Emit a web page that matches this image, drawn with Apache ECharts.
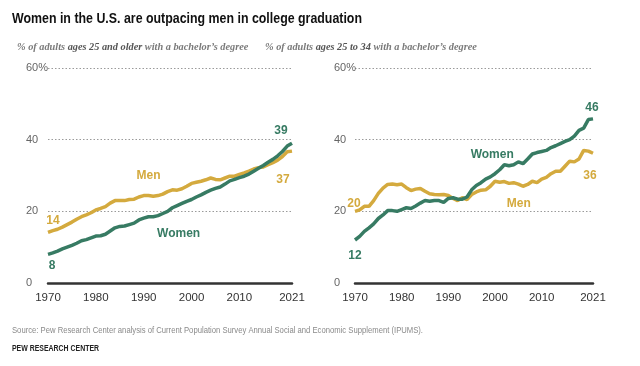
<!DOCTYPE html>
<html><head><meta charset="utf-8">
<script src="https://cdn.jsdelivr.net/npm/echarts@6/dist/echarts.min.js"></script>
<style>html,body{margin:0;padding:0;background:#fff}#c{width:640px;height:366px}</style>
</head><body><div id="c"></div>
<script>
const years = [];
for (let y = 1970; y <= 2021; y++) years.push(y);

// Ages 25 and older
const menAll = [14.1,14.6,15.0,15.6,16.3,17.0,17.8,18.5,19.0,19.6,20.4,20.8,21.3,22.3,23.0,23.0,23.0,23.3,23.4,24.0,24.4,24.4,24.2,24.4,24.8,25.5,26.0,25.9,26.3,27.0,27.8,28.1,28.4,28.8,29.3,28.9,28.8,29.3,29.8,29.8,30.3,30.7,31.2,31.8,32.2,32.4,33.0,33.6,34.3,35.3,36.6,36.8];
const womenAll = [8.0,8.4,8.9,9.5,10.0,10.5,11.1,11.8,12.1,12.6,13.1,13.2,13.6,14.5,15.4,15.8,15.9,16.3,16.7,17.6,18.1,18.5,18.5,18.8,19.4,20.0,21.0,21.6,22.2,22.8,23.3,24.0,24.6,25.3,25.9,26.4,26.8,27.6,28.5,28.9,29.4,29.8,30.4,31.2,32.0,32.8,33.7,34.5,35.5,36.7,38.2,39.0];

// Ages 25 to 34
const menYoung = [20.0,20.4,21.4,21.4,23.0,25.0,26.5,27.5,27.6,27.4,27.6,26.6,25.8,26.2,26.4,25.6,24.9,24.7,24.6,24.7,24.4,23.6,23.0,23.8,23.3,24.7,25.4,25.9,26.0,27.0,28.4,28.1,28.3,27.8,28.0,27.6,27.0,27.5,28.4,28.0,29.0,29.5,30.5,31.2,31.2,32.6,34.0,33.8,34.6,37.0,36.8,36.2];
const womenYoung = [12.0,13.0,14.4,15.4,16.5,18.0,19.0,20.2,20.2,20.0,20.5,21.0,20.8,21.5,22.3,23.0,22.8,23.0,23.0,22.5,23.6,23.8,23.4,23.4,24.0,26.0,27.2,28.0,29.0,29.6,30.5,31.6,33.0,32.7,33.0,33.8,33.3,34.6,36.0,36.4,36.7,37.0,37.8,38.3,38.9,39.5,40.0,41.0,42.6,43.2,45.6,45.8];

const xTicks = [1970, 1980, 1990, 2000, 2010, 2021];
const yTicks = [0, 20, 40, 60];

const GREEN = '#377b63';
const GOLD = '#d4aa3e';
const pair = arr => years.map((y, i) => [y, arr[i]]);

const ctx = document.createElement('canvas').getContext('2d');
function fitScale(text, font, target) {
  ctx.font = font;
  const w = ctx.measureText(text).width;
  return w > 0 ? target / w : 1;
}

function xAxis(gi) {
  return {
    type: 'value', gridIndex: gi, min: years[0], max: years[years.length - 1],
    axisLine: { show: true, onZero: true, lineStyle: { color: '#333', width: 2.5 } },
    axisTick: { show: false },
    splitLine: { show: false },
    axisLabel: { customValues: xTicks, color: '#333', fontSize: 11.5, margin: 9,
      fontFamily: 'Liberation Sans, Arial, sans-serif', formatter: v => String(v) }
  };
}
function yAxis(gi, margin) {
  return {
    type: 'value', gridIndex: gi, min: yTicks[0], max: yTicks[yTicks.length - 1], interval: 20,
    axisLine: { show: false }, axisTick: { show: false },
    splitLine: { show: true, lineStyle: { color: '#9a9a9a', type: [1.5, 2], width: 1 } },
    axisLabel: { align: 'left', margin: margin, color: '#666', fontSize: 11,
      fontFamily: 'Liberation Sans, Arial, sans-serif',
      formatter: v => v === 60 ? '60%' : String(v) }
  };
}
const labFont = { fontWeight: 'bold', fontSize: 12, fontFamily: 'Liberation Sans, Arial, sans-serif' };
function valMark(arr, idx, color, offset) {
  return { coord: [years[idx], arr[idx]], value: Math.round(arr[idx]),
    label: Object.assign({ show: true, position: 'inside', offset: offset, color: color,
      formatter: p => String(p.value) }, labFont) };
}
function nameMark(name, coord, color) {
  return { coord: coord, value: name,
    label: Object.assign({ show: true, position: 'inside', color: color, formatter: name }, labFont) };
}
function series(name, gi, arr, color, marks) {
  return {
    type: 'line', name: name, xAxisIndex: gi, yAxisIndex: gi, data: pair(arr),
    showSymbol: false, smooth: false, silent: true,
    lineStyle: { color: color, width: 3.5 }, itemStyle: { color: color },
    markPoint: { symbol: 'circle', symbolSize: 0, silent: true, data: marks }
  };
}
const L = years.length - 1;

const TITLE = 'Women in the U.S. are outpacing men in college graduation';
const SOURCE = 'Source: Pew Research Center analysis of Current Population Survey Annual Social and Economic Supplement (IPUMS).';
const CREDIT = 'PEW RESEARCH CENTER';
const fTitle = 'bold 15px "Liberation Sans", Arial, sans-serif';
const fSource = 'normal 9.5px "Liberation Sans", Arial, sans-serif';
const fCredit = 'bold 9.5px "Liberation Sans", Arial, sans-serif';

function scaledText(text, font, x, y, target, fill) {
  return { type: 'text', x: x, y: y, scaleX: fitScale(text, font, target), silent: true,
    style: { text: text, font: font, fill: fill, textVerticalAlign: 'middle', verticalAlign: 'middle' } };
}

const subStyle = { fontSize: 10.3, fontStyle: 'italic', color: '#7a7a7a', fontFamily: 'Liberation Serif, DejaVu Serif, serif',
  rich: { b: { fontSize: 10.3, fontStyle: 'italic', fontWeight: 'bold', color: '#555', fontFamily: 'Liberation Serif, DejaVu Serif, serif' } } };

const chart = echarts.init(document.getElementById('c'), null, { renderer: 'canvas' });
chart.setOption({
  animation: false,
  backgroundColor: '#fff',
  title: [
    { text: "% of adults {b|ages 25 and older} with a bachelor\u2019s degree", left: 12, top: 37, textStyle: subStyle },
    { text: "% of adults {b|ages 25 to 34} with a bachelor\u2019s degree", left: 260, top: 37, textStyle: subStyle }
  ],
  graphic: [
    scaledText(TITLE, fTitle, 12, 19, 350, '#111'),
    scaledText(SOURCE, fSource, 12, 330, 411, '#8a8a8a'),
    scaledText(CREDIT, fCredit, 12, 348, 87, '#222')
  ],
  grid: [
    { left: 48, right: 348, top: 68, bottom: 83 },
    { left: 355, right: 47, top: 68, bottom: 83 }
  ],
  xAxis: [xAxis(0), xAxis(1)],
  yAxis: [yAxis(0, 22), yAxis(1, 21)],
  series: [
    series('Men', 0, menAll, GOLD, [
      valMark(menAll, 0, GOLD, [5, -12]),
      valMark(menAll, L, GOLD, [-9, 29]),
      nameMark('Men', [1991, 29.9], GOLD)
    ]),
    series('Women', 0, womenAll, GREEN, [
      valMark(womenAll, 0, GREEN, [4, 11]),
      valMark(womenAll, L, GREEN, [-11, -13]),
      nameMark('Women', [1997.3, 13.9], GREEN)
    ]),
    series('Men', 1, menYoung, GOLD, [
      valMark(menYoung, 0, GOLD, [-1, -8]),
      valMark(menYoung, L, GOLD, [-3, 22]),
      nameMark('Men', [2005.1, 22.0], GOLD)
    ]),
    series('Women', 1, womenYoung, GREEN, [
      valMark(womenYoung, 0, GREEN, [0, 16]),
      valMark(womenYoung, L, GREEN, [-1, -11]),
      nameMark('Women', [1999.4, 35.7], GREEN)
    ])
  ]
});
</script></body></html>
